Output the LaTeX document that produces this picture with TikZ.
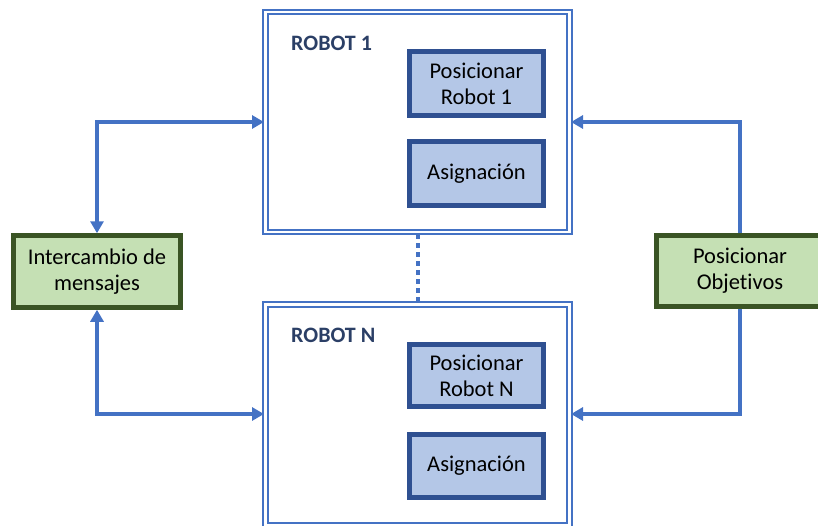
\documentclass[tikz,border=0pt]{standalone}
\usepackage{fontspec}
\setmainfont{Carlito}[Ligatures=NoCommon]
\usetikzlibrary{arrows.meta}
\definecolor{linkblue}{HTML}{4472C4}
\definecolor{taskfill}{HTML}{B4C7E7}
\definecolor{taskedge}{HTML}{2F5091}
\definecolor{titleblue}{HTML}{2B3F66}
\definecolor{extfill}{HTML}{C5E0B4}
\definecolor{extedge}{HTML}{3A5424}
\tikzset{
  robotbox/.style={draw=linkblue, double=white, double distance=2.6pt, line width=1.8pt},
  taskbox/.style={draw=taskedge, fill=taskfill, line width=4.5pt, align=center,
    font=\fontsize{22.5}{26}\selectfont, inner sep=0pt},
  extbox/.style={draw=extedge, fill=extfill, line width=4.5pt, align=center,
    font=\fontsize{22.5}{26}\selectfont, inner sep=0pt},
  robottitle/.style={text=titleblue, font=\bfseries\fontsize{22}{24}\selectfont, inner sep=0pt, anchor=west},
  link/.style={draw=linkblue, line width=3.2pt},
}
\begin{document}
\begin{tikzpicture}[x=1pt,y=-1pt, >={Triangle[length=12pt,width=13pt]}]
\useasboundingbox (0,0) rectangle (818,525);

% robot containers
\draw[robotbox] (265.5,12) rectangle (569.5,232);
\draw[robotbox] (265.5,304.5) rectangle (569.5,525.5);
\coordinate (r1w) at (264,122);
\coordinate (r1e) at (571,122);
\coordinate (rNw) at (264,414);
\coordinate (rNe) at (571,414);
\coordinate (r1s) at (418,234);
\coordinate (rNn) at (418,302.5);

\node[robottitle] (t1) at (291,43) {ROBOT 1};
\node[robottitle] (tN) at (291,335) {ROBOT N};

% tasks inside each robot
\node[taskbox, minimum width=134pt, minimum height=64pt] (p1) at (476.5,83.5) {Posicionar\\Robot 1};
\node[taskbox, minimum width=134pt, minimum height=64pt] (a1) at (476.5,173.5) {Asignación};
\node[taskbox, minimum width=134pt, minimum height=62pt] (pN) at (476.5,375.5) {Posicionar\\Robot N};
\node[taskbox, minimum width=134pt, minimum height=63pt] (aN) at (476.5,466) {Asignación};

% external processes
\node[extbox, minimum width=167pt, minimum height=72pt] (msg) at (97,271.5) {Intercambio de\\mensajes};
\node[extbox, minimum width=167pt, minimum height=71pt] (obj) at (740,271) {Posicionar\\Objetivos};

% dotted link between robots
\draw[linkblue, line width=3.8pt, dash pattern=on 5pt off 4pt] (r1s) -- (rNn);

% message exchange links
\draw[link, <->] (msg.north) |- (r1w);
\draw[link, <->] (msg.south) |- (rNw);

% target placement links
\draw[link, ->] (obj.north) |- (r1e);
\draw[link, ->] (obj.south) |- (rNe);
\end{tikzpicture}
\end{document}
